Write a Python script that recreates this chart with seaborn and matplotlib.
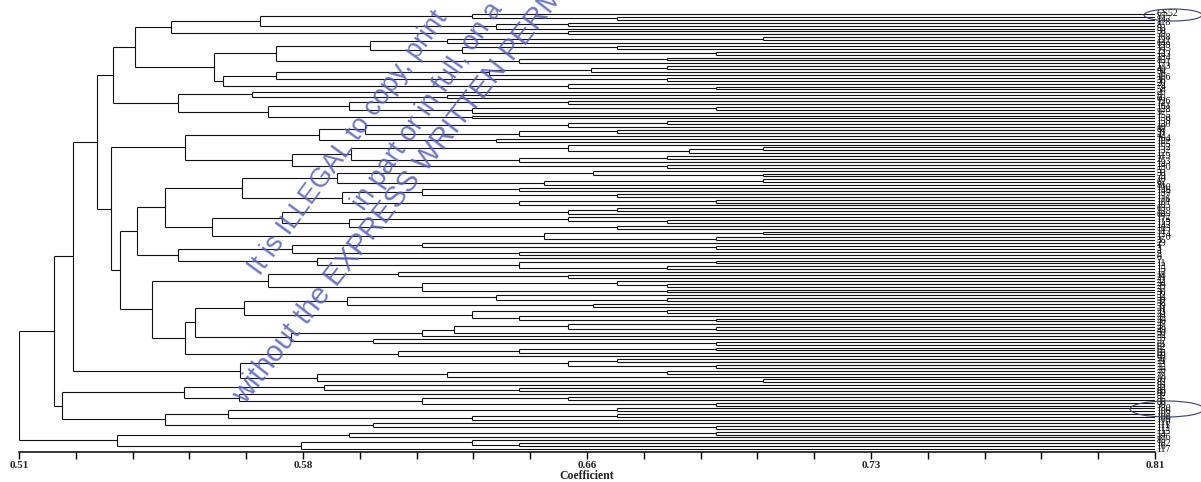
import matplotlib
matplotlib.use("Agg")
import matplotlib.pyplot as plt
from matplotlib.patches import Ellipse
from matplotlib.ticker import FixedLocator, MultipleLocator
import seaborn as sns

sns.set_theme(style="white")
plt.rcParams["font.family"] = ["Liberation Serif", "DejaVu Serif"]

# Genotype labels, top to bottom in dendrogram order
LABELS = [
    "CS52", "87", "147", "118", "8", "93", "98", "59", "168", "121",
    "64", "139", "145", "23", "143", "134", "85", "171", "173", "40",
    "94", "56", "166", "36", "20", "74", "58", "26", "9", "60",
    "126", "72", "161", "128", "97", "155", "156", "159", "130", "19",
    "88", "31", "42", "104", "102", "165", "152", "132", "12", "119",
    "2", "163", "14", "150", "55", "33", "79", "10", "67", "81",
    "100", "146", "137", "157", "116", "101", "105", "63", "178", "68",
    "172", "175", "115", "142", "103", "51", "174", "170", "35", "29",
    "1", "3", "4", "5", "6", "7", "11", "13", "15", "17",
    "18", "21", "22", "24", "25", "27", "30", "32", "34", "37",
    "38", "39", "41", "43", "44", "45", "46", "47", "48", "49",
    "50", "52", "53", "57", "61", "62", "65", "66", "69", "70",
    "71", "73", "75", "76", "77", "78", "80", "82", "83", "84",
    "86", "90", "92", "95", "96", "99", "180", "106", "107", "108",
    "109", "110", "111", "112", "113", "54", "176", "89", "182", "16",
    "117",
]

# Terminal clusters: (coefficient, upper, lower); integers index LABELS
C01 = (0.6295, 0, (0.668, 1, 2))
C02 = (0.636, (0.655, 3, 4), 5)
C03 = (0.655, 6, 7)
C04 = (0.6027, (0.623, (0.7065, 8, 9), 10), (0.627, (0.668, 11, 12), (0.694, 13, 14)))
C05 = (0.642, (0.681, 15, 16), 17)
C06 = (0.5779, (0.634, (0.661, (0.681, 18, 19), 20), 21), (0.681, 22, 23))
C07 = (0.655, 24, (0.694, 25, 26))
C08 = (0.5714, 27, (0.623, 28, 29))
C09 = (0.5971, (0.655, 30, 31), (0.6295, (0.694, 32, 33), 34))
C10 = (0.6295, 35, 36)
C11 = (0.6014, (0.655, (0.681, 37, 38), 39), (0.642, (0.668, 40, 41), 42))
C12 = (0.636, 43, 44)
C13 = (0.5978, (0.655, 45, (0.687, (0.7065, 46, 47), 48)), (0.642, (0.681, 49, 50), 51))
C14 = (0.681, 52, 53)
C15 = (0.5939, (0.6616, 54, (0.7065, 55, 56)), (0.6486, (0.7065, 57, 58), 59))
C16 = (0.5952, (0.6163, (0.642, 60, 61), (0.668, 62, 63)), (0.642, (0.694, 64, 65), 66))
C17 = (0.655, (0.668, 67, 68), 69)
C18 = (0.5971, (0.655, 70, (0.681, 71, 72)), (0.668, 73, 74))
C19 = (0.6486, (0.7065, 75, 76), (0.694, 77, 78))
C20 = (0.5822, (0.6163, 79, (0.694, 80, 81)), (0.642, 82, 83))
C21 = (0.5886, 84, (0.642, (0.694, 85, 86), (0.681, 87, 88)))
C22 = (0.6101, 89, (0.655, 90, 91))
C23 = (0.6163, (0.668, 92, (0.681, 93, 94)), (0.681, 95, 96))
C24 = (0.5965, (0.636, 97, (0.681, 98, 99)), (0.6616, 100, 101))
C25 = (0.6295, (0.681, 102, 103), (0.642, 104, (0.694, 105, 106)))
C26 = (0.6163, (0.625, (0.655, 107, (0.694, 108, 109)), 110), 111)
C27 = (0.6036, 112, (0.694, 113, 114))
C28 = (0.6102, (0.642, (0.694, 115, 116), 117), 118)
C29 = (0.655, (0.668, 119, 120), (0.694, 121, 122))
C30 = (0.5886, (0.623, (0.681, 123, 124), 125), (0.7065, 126, 127))
C31 = (0.5906, 128, (0.642, 129, 130))
C32 = (0.568, 131, (0.6163, (0.655, 132, 133), (0.694, 134, 135)))
C33 = (0.5651, (0.668, 136, 137), (0.6295, (0.668, 138, 139), 140))
C34 = (0.6036, 141, (0.694, 142, 143))
C35 = (0.5971, (0.694, 144, 145), 146)
C36 = (0.5844, (0.6295, 147, (0.642, 148, 149)), 150)

# Higher-level joins
G1 = (0.5501, (0.5736, C01, C02), C03)
G2 = (0.5615, (0.5779, C04, C05), (0.5638, C06, C07))
G3 = (0.5521, C08, (0.5757, C09, C10))
UPPER = (0.5349, (0.5406, G1, G2), G3)
G4 = (0.5538, (0.5893, C11, C12), (0.5822, C13, C14))
G5 = (0.5486, (0.5688, C15, C16), (0.5611, (0.5794, C17, C18), C19))
G6 = (0.5412, G5, (0.5521, C20, C21))
G7 = (0.5538, (0.5565, (0.5693, C24, C25), (0.5817, C26, C27)), C28)
G8 = (0.545, (0.5758, C22, C23), G7)
MIDDLE = (0.5342, G4, (0.5368, G6, G8))
G9 = (0.5243, (0.5305, UPPER, MIDDLE), (0.5683, C29, C30))
G10 = (0.5214, (0.5535, C31, C32), (0.5486, C33, C34))
G11 = (0.536, C35, C36)
TREE = (0.51, (0.5192, G9, G10), G11)

X_MIN, X_MAX = 0.51, 0.81
MAJOR = [0.51, 0.585, 0.66, 0.735, 0.81]
MAJOR_TEXT = ["0.51", "0.58", "0.66", "0.73", "0.81"]

W, H = 1201, 482
fig = plt.figure(figsize=(W / 100, H / 100), dpi=100)
fig.patch.set_facecolor("white")
ax = fig.add_axes([19 / W, (H - 452) / H, (1155 - 19) / W, (452 - 5) / H])
ax.set_facecolor("white")

LINE = dict(color="#111111", linewidth=0.8)


def draw(node):
    if isinstance(node, int):
        return float(node), X_MAX
    h, up, low = node
    y1, x1 = draw(up)
    y2, x2 = draw(low)
    ax.hlines([y1, y2], h, [x1, x2], **LINE)
    ax.vlines(h, y1, y2, **LINE)
    return (y1 + y2) / 2.0, h


draw(TREE)

ax.set_xlim(X_MIN, X_MAX)
ax.set_ylim((452 - 14) / 2.9, -(14 - 5) / 2.9)
ax.set_yticks([])

for i, lab in enumerate(LABELS):
    ax.text(X_MAX + 0.0004, i, lab, fontsize=7, va="center", ha="left",
            clip_on=False, color="#111111")

for side in ("top", "right", "left"):
    ax.spines[side].set_visible(False)
ax.spines["bottom"].set_color("black")
ax.spines["bottom"].set_linewidth(1.1)

ax.xaxis.set_major_locator(FixedLocator(MAJOR))
ax.set_xticklabels(MAJOR_TEXT, fontweight="bold", fontsize=8)
ax.xaxis.set_minor_locator(MultipleLocator(0.015))
ax.tick_params(axis="x", which="both", bottom=True, direction="out",
               length=5, width=1, color="black", pad=1.5)
ax.set_xlabel("Coefficient", fontweight="bold", fontsize=8.5, labelpad=0)
ax.grid(False)

# Highlighted genotypes
for cx, cy, ew, eh in [(1173, 15, 58, 12), (1167, 409, 74, 16)]:
    fig.patches.append(Ellipse((cx / W, 1 - cy / H), ew / W, eh / H,
                               transform=fig.transFigure, fill=False,
                               edgecolor="#34406e", linewidth=0.8))

# Copyright notice across the figure
WM = dict(color="#5560c0", alpha=0.85, rotation_mode="anchor",
          ha="left", va="baseline",
          family=["Liberation Sans", "DejaVu Sans"])
fig.text(260 / W, 1 - 276 / H, "It is ILLEGAL to copy, print",
         rotation=54, fontsize=19.5, **WM)
fig.text(364 / W, 1 - 212 / H, "in part or in full, on a",
         rotation=55.5, fontsize=19.5, **WM)
fig.text(245 / W, 1 - 405 / H, "without the EXPRESS WRITTEN PERMISSION",
         rotation=52, fontsize=21, **WM)

fig.savefig("out.png", dpi=100, facecolor="white")
